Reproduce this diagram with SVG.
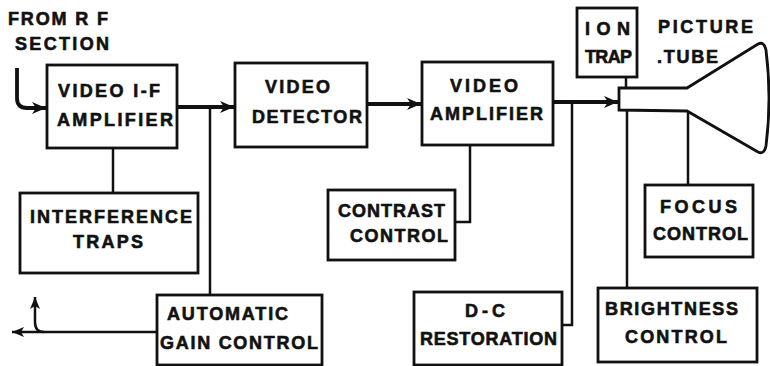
<svg xmlns="http://www.w3.org/2000/svg" width="770" height="366" viewBox="0 0 770 366">
<defs>
<style>
.box{fill:#fff;stroke:#111;stroke-width:2.8}
.t{font-family:"Liberation Sans",Arial,sans-serif;font-weight:bold;font-size:18px;fill:#111;stroke:#111;stroke-width:0.6}
.ln{fill:none;stroke:#111;stroke-width:2.5}
.sig{fill:none;stroke:#111;stroke-width:3.8}
</style>
<marker id="ah" markerUnits="userSpaceOnUse" markerWidth="16" markerHeight="14" refX="14" refY="7" orient="auto">
<path d="M0,1 L14,7 L0,13 L4,7 Z" fill="#111"/>
</marker>
<marker id="ahs" markerUnits="userSpaceOnUse" markerWidth="14" markerHeight="12" refX="12" refY="6" orient="auto">
<path d="M0,1 L12,6 L0,11 L3,6 Z" fill="#111"/>
</marker>
</defs>
<rect width="770" height="366" fill="#fff"/>

<g id="connectors">
<path class="sig" d="M17,68 L17,98 Q17,108 27,108 L46,108" marker-end="url(#ah)"/>
<path class="sig" d="M177,107 L234,107" marker-end="url(#ah)"/>
<path class="sig" d="M367,104 L421,104" marker-end="url(#ah)"/>
<path class="sig" d="M553,102 L618,102" marker-end="url(#ah)"/>
<path class="ln" d="M113,148 L113,193"/>
<path class="ln" d="M210,107 L210,295"/>
<path class="ln" d="M157,332 L12,332" marker-end="url(#ahs)"/>
<path class="ln" d="M44,332 Q35,332 35,322 L35,297" marker-end="url(#ahs)"/>
<path class="ln" d="M470,145 L470,222 L455,222"/>
<path class="ln" d="M572,102 L572,325 L562,325"/>
<path class="ln" d="M626,77 L626,88"/>
<path class="ln" d="M627,110 L627,288"/>
<path class="ln" d="M688,112 L688,185"/>
</g>

<g id="from-rf">
<text class="t" x="8" y="25" textLength="100" lengthAdjust="spacing">FROM R F</text>
<text class="t" x="15" y="50" textLength="94" lengthAdjust="spacing">SECTION</text>
</g>

<g id="video-if-amplifier">
<rect class="box" x="47" y="65" width="130" height="83"/>
<text class="t" x="58" y="97" textLength="102" lengthAdjust="spacing">VIDEO I-F</text>
<text class="t" x="57" y="126" textLength="116" lengthAdjust="spacing">AMPLIFIER</text>
</g>

<g id="video-detector">
<rect class="box" x="235" y="63" width="132" height="84"/>
<text class="t" x="265" y="93" textLength="65" lengthAdjust="spacing">VIDEO</text>
<text class="t" x="252" y="123" textLength="110" lengthAdjust="spacing">DETECTOR</text>
</g>

<g id="video-amplifier">
<rect class="box" x="422" y="62" width="131" height="83"/>
<text class="t" x="450" y="92" textLength="68" lengthAdjust="spacing">VIDEO</text>
<text class="t" x="430" y="120" textLength="113" lengthAdjust="spacing">AMPLIFIER</text>
</g>

<g id="ion-trap">
<rect class="box" x="577" y="8" width="60" height="69"/>
<text class="t" x="585" y="35" textLength="45" lengthAdjust="spacing">ION</text>
<text class="t" x="585" y="63" textLength="47" lengthAdjust="spacing">TRAP</text>
</g>

<g id="picture-tube">
<path class="box" d="M619,88 L687,88 L758,44 Q764,41 766,50 Q772,98 766,146 Q764,155 758,152 L687,111 L619,110 Z"/>
<text class="t" x="658" y="33" textLength="95" lengthAdjust="spacing">PICTURE</text>
<text class="t" x="657" y="63" textLength="61" lengthAdjust="spacing">.TUBE</text>
</g>

<g id="interference-traps">
<rect class="box" x="20" y="193" width="178" height="80"/>
<text class="t" x="30" y="223" textLength="162" lengthAdjust="spacing">INTERFERENCE</text>
<text class="t" x="73" y="248" textLength="70" lengthAdjust="spacing">TRAPS</text>
</g>

<g id="automatic-gain-control">
<rect class="box" x="157" y="295" width="165" height="70"/>
<text class="t" x="167" y="320" textLength="121" lengthAdjust="spacing">AUTOMATIC</text>
<text class="t" x="160" y="349" textLength="158" lengthAdjust="spacing">GAIN CONTROL</text>
</g>

<g id="contrast-control">
<rect class="box" x="328" y="190" width="127" height="70"/>
<text class="t" x="338" y="217" textLength="107" lengthAdjust="spacing">CONTRAST</text>
<text class="t" x="350" y="242" textLength="98" lengthAdjust="spacing">CONTROL</text>
</g>

<g id="dc-restoration">
<rect class="box" x="414" y="292" width="148" height="73"/>
<text class="t" x="465" y="317" textLength="40" lengthAdjust="spacing">D-C</text>
<text class="t" x="420" y="345" textLength="137" lengthAdjust="spacing">RESTORATION</text>
</g>

<g id="focus-control">
<rect class="box" x="645" y="185" width="108" height="72"/>
<text class="t" x="660" y="213" textLength="77" lengthAdjust="spacing">FOCUS</text>
<text class="t" x="653" y="240" textLength="95" lengthAdjust="spacing">CONTROL</text>
</g>

<g id="brightness-control">
<rect class="box" x="598" y="288" width="159" height="74"/>
<text class="t" x="605" y="315" textLength="133" lengthAdjust="spacing">BRIGHTNESS</text>
<text class="t" x="625" y="343" textLength="102" lengthAdjust="spacing">CONTROL</text>
</g>
</svg>
